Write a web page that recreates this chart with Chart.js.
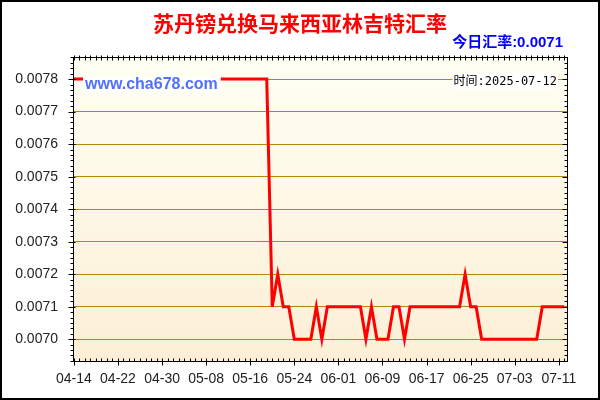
<!DOCTYPE html>
<html lang="zh">
<head>
<meta charset="UTF-8">
<title>苏丹镑兑换马来西亚林吉特汇率</title>
<script src="https://cdn.jsdelivr.net/npm/chart.js"></script>
<style>
body { margin: 0; background: #fff; }
canvas { display: block; }
</style>
</head>
<body>
<canvas id="rateChart" width="600" height="400"></canvas>
<script>
// texts shown on the chart
const titleText = '苏丹镑兑换马来西亚林吉特汇率';
const todayText = '今日汇率:0.0071';
const siteText = 'www.cha678.com';
const timeText = '时间:2025-07-12';

// one point per day, 04-14 .. 07-12
const dates = [
    '04-14', '04-15', '04-16', '04-17', '04-18', '04-19', '04-20', '04-21', '04-22', '04-23',
    '04-24', '04-25', '04-26', '04-27', '04-28', '04-29', '04-30',
    '05-01', '05-02', '05-03', '05-04', '05-05', '05-06', '05-07', '05-08', '05-09', '05-10',
    '05-11', '05-12', '05-13', '05-14', '05-15', '05-16', '05-17', '05-18', '05-19', '05-20',
    '05-21', '05-22', '05-23', '05-24', '05-25', '05-26', '05-27', '05-28', '05-29', '05-30', '05-31',
    '06-01', '06-02', '06-03', '06-04', '06-05', '06-06', '06-07', '06-08', '06-09', '06-10',
    '06-11', '06-12', '06-13', '06-14', '06-15', '06-16', '06-17', '06-18', '06-19', '06-20',
    '06-21', '06-22', '06-23', '06-24', '06-25', '06-26', '06-27', '06-28', '06-29', '06-30',
    '07-01', '07-02', '07-03', '07-04', '07-05', '07-06', '07-07', '07-08', '07-09', '07-10',
    '07-11', '07-12'
];

const rates = [
    0.0078, 0.0078, 0.0078, 0.0078, 0.0078, 0.0078, 0.0078, 0.0078, 0.0078, 0.0078,
    0.0078, 0.0078, 0.0078, 0.0078, 0.0078, 0.0078, 0.0078,
    0.0078, 0.0078, 0.0078, 0.0078, 0.0078, 0.0078, 0.0078, 0.0078, 0.0078, 0.0078,
    0.0078, 0.0078, 0.0078, 0.0078, 0.0078, 0.0078, 0.0078, 0.0078, 0.0078, 0.0071,
    0.0072, 0.0071, 0.0071, 0.0070, 0.0070, 0.0070, 0.0070, 0.0071, 0.0070, 0.0071, 0.0071,
    0.0071, 0.0071, 0.0071, 0.0071, 0.0071, 0.0070, 0.0071, 0.0070, 0.0070, 0.0070,
    0.0071, 0.0071, 0.0070, 0.0071, 0.0071, 0.0071, 0.0071, 0.0071, 0.0071, 0.0071,
    0.0071, 0.0071, 0.0071, 0.0072, 0.0071, 0.0071, 0.0070, 0.0070, 0.0070, 0.0070,
    0.0070, 0.0070, 0.0070, 0.0070, 0.0070, 0.0070, 0.0070, 0.0071, 0.0071, 0.0071,
    0.0071, 0.0071
];

const yTicks = [0.0070, 0.0071, 0.0072, 0.0073, 0.0074, 0.0075, 0.0076, 0.0077, 0.0078];
const yMin = 0.006933;
const yMax = 0.007868;
const labelEvery = 8;   // one date label every 8 days
const minorPerStep = 6; // small ticks between y labels

const sansFont = '"Liberation Sans", Arial, sans-serif';
const cjkFont = '"Liberation Sans", "Noto Sans CJK SC", sans-serif';

// background, text boxes, frame and small tick marks
const decor = {
    id: 'decor',
    beforeDraw(chart) {
        const { ctx, chartArea: a } = chart;
        const g = ctx.createLinearGradient(0, a.top, 0, a.bottom);
        g.addColorStop(0, '#fffff4');
        g.addColorStop(1, '#fcefd6');
        ctx.save();
        ctx.fillStyle = g;
        ctx.fillRect(a.left, a.top, a.right - a.left, a.bottom - a.top);
        ctx.restore();
    },
    afterDatasetsDraw(chart) {
        const { ctx, chartArea: a } = chart;
        ctx.save();
        ctx.textBaseline = 'middle';

        ctx.font = 'bold 16px ' + sansFont;
        let w = ctx.measureText(siteText).width;
        ctx.fillStyle = '#ffffff';
        ctx.fillRect(a.left + 10, a.top + 20, w + 5, 15);
        ctx.fillStyle = '#5070ff';
        ctx.fillText(siteText, a.left + 12, a.top + 28);

        ctx.font = '12px "DejaVu Sans Mono", "Noto Sans CJK SC", monospace';
        w = ctx.measureText(timeText).width;
        ctx.fillStyle = '#ffffff';
        ctx.fillRect(a.right - 12 - w, a.top + 17, w + 2, 15);
        ctx.fillStyle = '#000000';
        ctx.textAlign = 'right';
        ctx.fillText(timeText, a.right - 11, a.top + 24.5);
        ctx.restore();
    },
    afterDraw(chart) {
        const { ctx, chartArea: a, scales } = chart;
        const left = Math.round(a.left) + 0.5;
        const right = Math.round(a.right) - 0.5;
        const top = Math.round(a.top) + 0.5;
        const bottom = Math.round(a.bottom) + 0.5;
        ctx.save();
        ctx.strokeStyle = '#000000';
        ctx.lineWidth = 1;
        ctx.strokeRect(left, top, right - left, bottom - top);

        ctx.beginPath();
        dates.forEach((d, i) => {
            const px = Math.round(scales.x.getPixelForValue(i)) + 0.5;
            const major = i % labelEvery === 0;
            ctx.moveTo(px, bottom - 3);
            ctx.lineTo(px, bottom + (major ? 4 : 0));
            ctx.moveTo(px, top - 2);
            ctx.lineTo(px, top + 3);
        });
        const step = (yTicks[1] - yTicks[0]) / minorPerStep;
        const kFrom = Math.ceil((yMin - yTicks[0]) / step);
        const kTo = Math.floor((yMax - yTicks[0]) / step);
        for (let k = kFrom; k <= kTo; k++) {
            const py = Math.round(scales.y.getPixelForValue(yTicks[0] + k * step)) + 0.5;
            const major = k % minorPerStep === 0;
            ctx.moveTo(left - (major ? 5 : 3), py);
            ctx.lineTo(left + (major ? 2 : 0), py);
            ctx.moveTo(right - (major ? 5 : 3), py);
            ctx.lineTo(right, py);
        }
        ctx.stroke();

        // today's rate, right aligned above the plot
        ctx.font = 'bold 15px ' + cjkFont;
        ctx.fillStyle = '#0000ff';
        ctx.textAlign = 'right';
        ctx.textBaseline = 'middle';
        ctx.fillText(todayText, a.right - 5, a.top - 14.5);

        // outer border
        ctx.lineWidth = 2;
        ctx.strokeRect(1, 1, chart.width - 2, chart.height - 2);
        ctx.restore();
    }
};

new Chart(document.getElementById('rateChart'), {
    type: 'line',
    data: {
        datasets: [{
            label: titleText,
            data: rates.map((v, i) => ({ x: i, y: v })),
            borderColor: '#ff0000',
            borderWidth: 3,
            pointRadius: 0,
            tension: 0,
            fill: false
        }]
    },
    options: {
        responsive: false,
        animation: false,
        events: [],
        layout: { padding: 0 },
        plugins: {
            legend: { display: false },
            tooltip: { enabled: false },
            title: {
                display: true,
                text: titleText,
                color: '#ff0000',
                font: { family: '"Noto Sans CJK SC", sans-serif', size: 21, weight: 'bold', lineHeight: 1 },
                padding: { top: 13, bottom: 23 }
            }
        },
        scales: {
            x: {
                type: 'linear',
                min: -0.16,
                max: 89.67,
                afterBuildTicks: s => { s.ticks = dates.map((d, i) => ({ value: i })); },
                afterFit: s => { s.height = 39; },
                grid: { display: false, drawTicks: false },
                border: { display: false },
                ticks: {
                    autoSkip: false,
                    maxRotation: 0,
                    padding: 10,
                    color: '#222222',
                    font: { family: sansFont, size: 14 },
                    callback: v => (v % labelEvery === 0 ? dates[v] : '')
                }
            },
            y: {
                min: yMin,
                max: yMax,
                afterBuildTicks: s => { s.ticks = yTicks.map(v => ({ value: v })); },
                afterFit: s => { s.width = 73; },
                grid: { color: '#b8860b', lineWidth: 1, drawTicks: false },
                border: { display: false },
                ticks: {
                    padding: 15,
                    color: '#222222',
                    font: { family: sansFont, size: 14 },
                    callback: v => v.toFixed(4)
                }
            },
            y2: {
                position: 'right',
                min: yMin,
                max: yMax,
                afterFit: s => { s.width = 32; },
                grid: { display: false },
                border: { display: false },
                ticks: { display: false }
            }
        }
    },
    plugins: [decor]
});
</script>
</body>
</html>
